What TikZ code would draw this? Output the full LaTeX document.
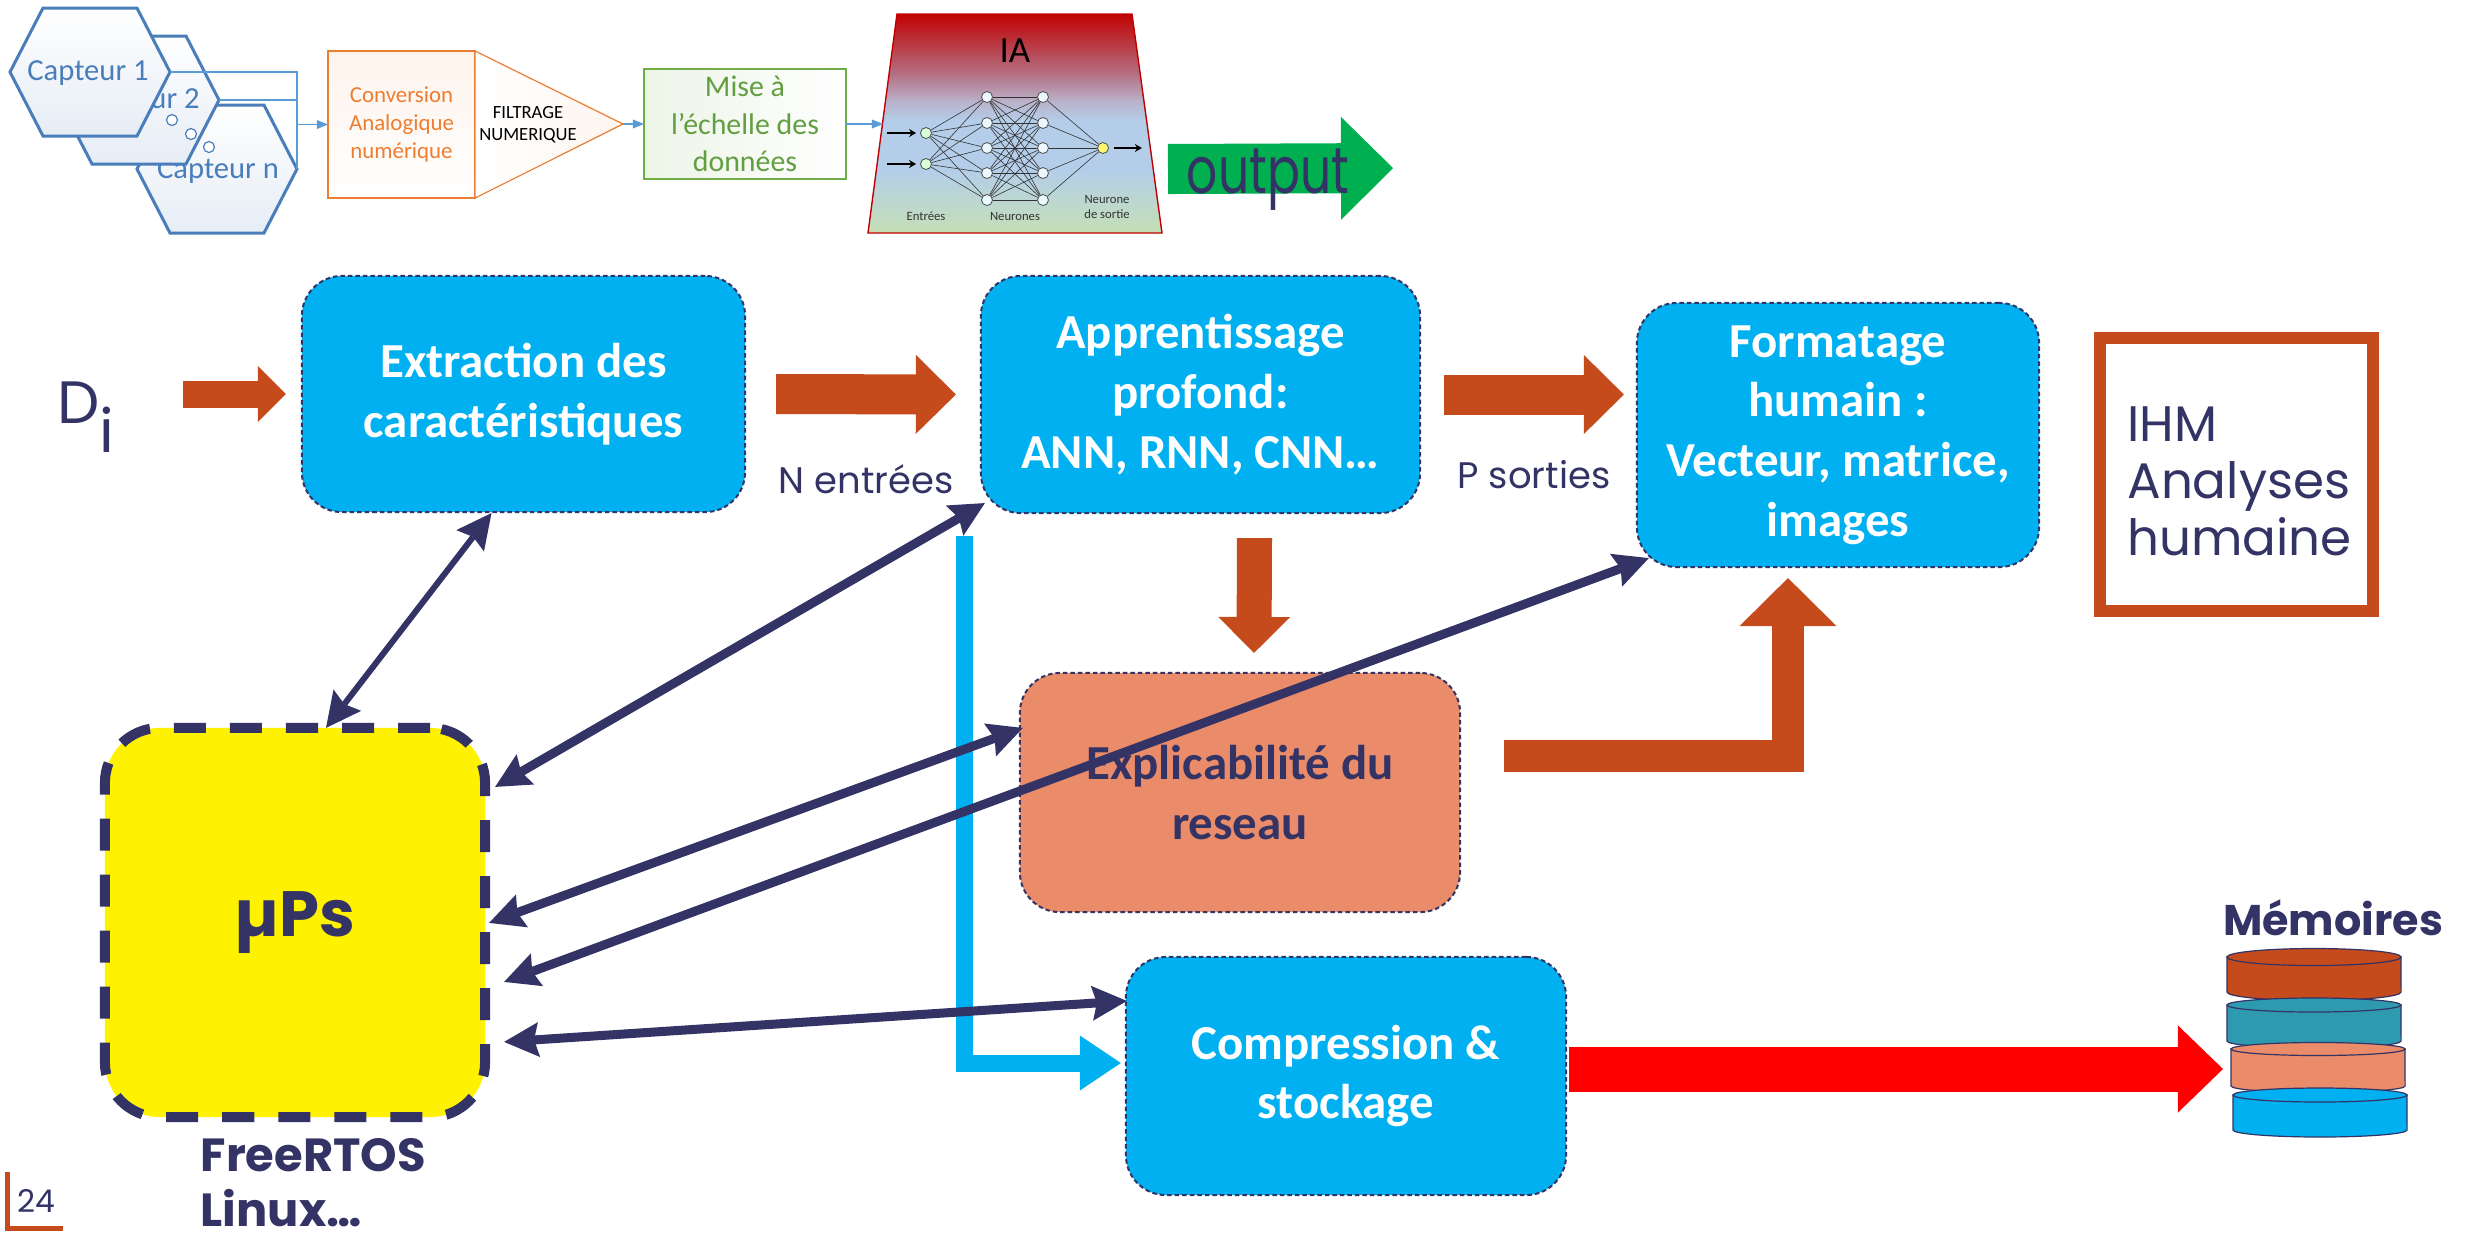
\documentclass[tikz,border=0pt]{standalone}
\usepackage{fontspec}
\usepackage{graphicx}
\setmainfont{Carlito}
\newfontfamily\gothic{Poppins}
\usetikzlibrary{arrows.meta,calc}

\definecolor{navy}{RGB}{51,51,102}
\definecolor{skyblue}{RGB}{0,176,240}
\definecolor{rust}{RGB}{197,75,29}
\definecolor{salmon}{RGB}{234,140,105}
\definecolor{tealdisk}{RGB}{46,154,176}
\definecolor{outgreen}{RGB}{0,176,80}
\definecolor{hexblue}{RGB}{74,126,187}
\definecolor{convorange}{RGB}{237,125,49}
\definecolor{boxgreen}{RGB}{112,173,71}
\definecolor{textgreen}{RGB}{98,158,66}
\definecolor{linkblue}{RGB}{91,155,213}
\definecolor{iared}{RGB}{192,0,0}
\definecolor{iamauve}{RGB}{180,115,135}
\definecolor{ialav}{RGB}{186,176,200}
\definecolor{iablue}{RGB}{180,206,234}
\definecolor{iagreen}{RGB}{197,224,180}

\tikzset{
  navytip/.tip={Stealth[length=0.35cm,width=0.35cm,inset=0.05cm,line width=0pt]},
  linktip/.tip={Triangle[length=0.11cm,width=0.09cm,line width=0pt]},
}

\begin{document}
\begin{tikzpicture}[x=0.01cm,y=-0.01cm,
  procbox/.style={rectangle, rounded corners=0.4cm, fill=skyblue, draw=navy,
    line width=0.02cm, dash pattern=on 0.045cm off 0.03cm, text=white,
    font=\bfseries\fontsize{13.9}{17}\selectfont, align=center, inner sep=0pt},
  hexcell/.style={draw=hexblue, line width=0.03cm, top color=white, bottom color=hexblue!14},
  hextext/.style={text=hexblue, font=\fontsize{8.7}{10}\selectfont, inner sep=0pt},
  link/.style={linkblue, line width=0.018cm},
  linkarrow/.style={link, -linktip},
  nnnode/.style={circle, draw=black!70, line width=0.008cm, minimum size=0.11cm, inner sep=0pt},
  nnedge/.style={black!80, line width=0.006cm},
  nnlabel/.style={text=black!80, font=\fontsize{3.6}{4.3}\selectfont, align=center, inner sep=0pt},
  navylink/.style={navy, line width=0.09cm, navytip-navytip},
  gothictext/.style={text=navy, inner sep=0pt},
]
\path[use as bounding box, fill=white] (0,0) rectangle (2474,1232);

% ---------- acquisition chain ----------
\path[hexcell] (137,169) -- (170,105) -- (264,105) -- (297,169) -- (264,233) -- (170,233) -- cycle;
\node[hextext] (capn) at (218,171) {Capteur n};
\path[hexcell] (59,100) -- (92,36) -- (186,36) -- (219,100) -- (186,164) -- (92,164) -- cycle;
\node[hextext] (cap2) at (139,101) {Capteur 2};
\path[hexcell] (10,72) -- (43,8) -- (137,8) -- (170,72) -- (137,136) -- (43,136) -- cycle;
\node[hextext] (cap1) at (88,73) {Capteur 1};
\foreach \p in {(172,120),(191,134),(209,147)}
  \draw[hexblue, line width=0.012cm, fill=white] \p circle[radius=0.055cm];

\coordinate (h1) at (170,72);
\coordinate (h2) at (219,100);
\coordinate (hn) at (297,169);

\node[draw=convorange, line width=0.014cm, top color=convorange!9, bottom color=white,
  minimum width=1.47cm, minimum height=1.47cm, inner sep=0pt, outer sep=0pt,
  text=convorange, align=center, font=\fontsize{6.5}{8}\selectfont] (conv) at (401.5,124.5)
  {Conversion\\Analogique\\numérique};
\coordinate (filtout) at (623,124);
\path[draw=convorange, line width=0.012cm, left color=white, right color=convorange!8]
  (conv.north east) -- (filtout) -- (conv.south east) -- cycle;
\node[align=center, font=\fontsize{5.3}{6.3}\selectfont, inner sep=0pt] (filt) at (528,125)
  {FILTRAGE\\NUMERIQUE};

\draw[link] (h1) -| (hn);
\draw[link] (h2) -- (h2 -| hn);
\draw[linkarrow] (conv.west -| hn) -- (conv.west);

\node[draw=boxgreen, line width=0.016cm, left color=boxgreen!13, right color=white,
  minimum width=2.02cm, minimum height=1.10cm, inner sep=0pt, outer sep=0pt,
  text=textgreen, align=center, font=\fontsize{8.5}{10.7}\selectfont] (scale) at (745,124)
  {Mise à\\l’échelle des\\données};
\draw[linkarrow] (filtout) -- (scale.west);

% neural network block
\begin{scope}
  \clip (897,14) -- (1132,14) -- (1162,233) -- (868,233) -- cycle;
  \shade[top color=iared, bottom color=iamauve] (860,13) rectangle (1170,76);
  \shade[top color=iamauve, bottom color=ialav] (860,75) rectangle (1170,101);
  \shade[top color=ialav, bottom color=iablue] (860,100) rectangle (1170,121);
  \fill[iablue] (860,120) rectangle (1170,171);
  \shade[top color=iablue, bottom color=iagreen] (860,170) rectangle (1170,234);
\end{scope}
\draw[iared, line width=0.014cm] (897,14) -- (1132,14) -- (1162,233) -- (868,233) -- cycle;
\coordinate (iain) at (883,124);
\draw[linkarrow] (scale.east) -- (iain);
\node[font=\fontsize{10.5}{12}\selectfont, inner sep=0pt] (ia) at (1015,51) {IA};

\node[nnnode, fill=green!15] (i1) at (926,133) {};
\node[nnnode, fill=green!15] (i2) at (926,164) {};
\foreach \k/\yy in {1/97,2/123,3/148,4/173,5/200} {
  \node[nnnode, fill=cyan!8] (a\k) at (987,\yy) {};
  \node[nnnode, fill=cyan!8] (b\k) at (1043,\yy) {};
}
\node[nnnode, fill=yellow!55] (o) at (1103,148) {};
\foreach \u in {1,2} \foreach \v in {1,...,5} \draw[nnedge] (i\u) -- (a\v);
\foreach \u in {1,...,5} \foreach \v in {1,...,5} \draw[nnedge] (a\u) -- (b\v);
\foreach \u in {1,...,5} \draw[nnedge] (b\u) -- (o);
\foreach \n in {i1,i2}
  \draw[black, line width=0.028cm, -{Stealth[length=0.07cm,width=0.08cm]}] ($(\n.west)+(-33,0)$) -- ($(\n.west)+(-4,0)$);
\draw[black, line width=0.028cm, -{Stealth[length=0.07cm,width=0.08cm]}] ($(o.east)+(5,0)$) -- ($(o.east)+(33,0)$);
\node[nnlabel] (lin) at (926,216) {Entrées};
\node[nnlabel] (lhid) at (1015,216) {Neurones};
\node[nnlabel] (lout) at (1107,207) {Neurone\\de sortie};

% output arrow
\coordinate (outs) at (1168,169);
\coordinate (oute) at (1393,168);
\draw[outgreen, line width=0.50cm, -{Triangle[length=0.52cm,width=1.03cm,line width=0pt]}] (outs) -- (oute);
\node[gothictext, anchor=base, font=\gothic\fontsize{18.5}{20}\selectfont] (outlbl) at (1268,193)
  {\scalebox{0.75}[1]{output}};

% ---------- processing chain ----------
\node[procbox, minimum width=4.43cm, minimum height=2.36cm] (ext) at (523.5,394)
  {Extraction des\\caractéristiques};
\node[procbox, minimum width=4.39cm, minimum height=2.37cm] (app) at (1200.5,394.5)
  {Apprentissage\\profond:\\ANN, RNN, CNN…};
\node[procbox, minimum width=4.02cm, minimum height=2.64cm] (fmt) at (1838,435)
  {Formatage\\humain :\\Vecteur, matrice,\\images};
\node[procbox, fill=salmon, text=navy, minimum width=4.40cm, minimum height=2.39cm] (expl) at (1240,792.5)
  {Explicabilité du\\reseau};
\node[procbox, minimum width=4.40cm, minimum height=2.38cm] (comp) at (1346,1076)
  {Compression \&\\stockage};

\node[draw=navy, fill=yellow, line width=0.1cm, dash pattern=on 0.32cm off 0.24cm,
  rounded corners=0.55cm, minimum width=3.8cm, minimum height=3.89cm, outer sep=0pt,
  text=navy, font=\gothic\bfseries\fontsize{18.2}{20}\selectfont] (mups) at (295,922.5)
  {\raisebox{-0.14cm}{µPs}};

\node[draw=rust, line width=0.12cm, minimum width=2.73cm, minimum height=2.73cm, inner sep=0pt] (ihm) at (2236.5,474.5) {};
\node[gothictext, align=left, font=\gothic\fontsize{14.2}{16.2}\selectfont] (ihmtext) at ($(ihm.center)+(3,7)$)
  {IHM\\Analyses\\humaine};

\node[gothictext, anchor=base west, font=\gothic\fontsize{17}{20}\selectfont] (di) at (57,423)
  {D\raisebox{-0.29cm}{i}};
\node[gothictext, anchor=base, font=\gothic\fontsize{10.5}{12}\selectfont] (nin) at (866,493) {N entrées};
\node[gothictext, anchor=base, font=\gothic\fontsize{10.5}{12}\selectfont] (pout) at (1534,488) {P sorties};
\node[gothictext, anchor=base west, font=\gothic\bfseries\fontsize{13.2}{16}\selectfont] (os1) at (200,1171) {FreeRTOS};
\node[gothictext, anchor=base west, font=\gothic\bfseries\fontsize{13.2}{16}\selectfont] (os2) at (200,1226) {Linux…};
\node[gothictext, anchor=base, font=\gothic\bfseries\fontsize{12.2}{14}\selectfont] (memlbl) at (2333,935) {Mémoires};
\node[gothictext, anchor=base west, font=\gothic\fontsize{8.9}{10}\selectfont] (pagenum) at (17,1212) {24};
\draw[rust, line width=0.045cm] (7.5,1172) -- (7.5,1228.5) -- (63,1228.5);

% memory stack
\foreach \cx/\yt/\yb/\ry/\col in {2314/957/992/0.085/rust, 2314/1005/1041/0.07/tealdisk,
                                  2318/1049/1086/0.065/salmon, 2320/1095/1130/0.07/skyblue} {
  \path[draw=navy, line width=0.012cm, fill=\col]
    (\cx-87,\yt) -- (\cx-87,\yb) arc[start angle=180, end angle=360, x radius=0.87cm, y radius=\ry cm]
    -- (\cx+87,\yt) -- cycle;
  \path[draw=navy, line width=0.012cm, fill=\col] (\cx,\yt) ellipse [x radius=0.87cm, y radius=\ry cm];
}
\coordinate (memin) at (2223,1069);

% data path
\draw[skyblue, line width=0.17cm, line join=miter,
  -{Triangle[length=0.41cm,width=0.55cm,line width=0pt]}]
  ($(app.south west)+(-15,22)$) |- ($(comp.west)+(-4,-13)$);

\draw[rust, line width=0.27cm, -{Triangle[length=0.28cm,width=0.56cm,line width=0pt]}]
  ($(ext.west)+(-118,0)$) -- ($(ext.west)+(-15,0)$);
\draw[rust, line width=0.40cm, -{Triangle[length=0.40cm,width=0.79cm,line width=0pt]}]
  ($(ext.east)+(30,0)$) -- ($(app.west)+(-24,0)$);
\draw[rust, line width=0.40cm, -{Triangle[length=0.40cm,width=0.79cm,line width=0pt]}]
  ($(app.east)+(23,0)$) -- ($(app.east -| fmt.west)+(-12,0)$);
\draw[rust, line width=0.35cm, -{Triangle[length=0.36cm,width=0.72cm,line width=0pt]}]
  ($(app.south)+(54,24)$) -- ($(expl.north)+(14,-19)$);
\draw[rust, line width=0.32cm, line join=miter, -{Triangle[length=0.48cm,width=0.97cm,line width=0pt]}]
  ($(expl.east)+(43,-37)$) -| ($(fmt.south)+(-50,10)$);
\draw[red, line width=0.45cm, -{Triangle[length=0.45cm,width=0.87cm,line width=0pt]}]
  ($(comp.east)+(2,-7)$) -- (memin);

% links with the processor
\draw[navylink, line width=0.06cm] ($(ext.south)+(-32,0)$) -- ($(mups.north)+(31,0)$);
\draw[navylink] ($(app.south west)+(5,-11)$) -- ($(mups.north east)+(10,59)$);
\draw[navylink] ($(expl.north west)+(4,56)$) -- ($(mups.north east)+(4,195)$);
\draw[navylink] ($(fmt.south west)+(13,-10)$) -- ($(mups.north east)+(19,254)$);
\draw[navylink] ($(comp.north west)+(2,45)$) -- ($(mups.north east)+(19,314)$);
\end{tikzpicture}
\end{document}
